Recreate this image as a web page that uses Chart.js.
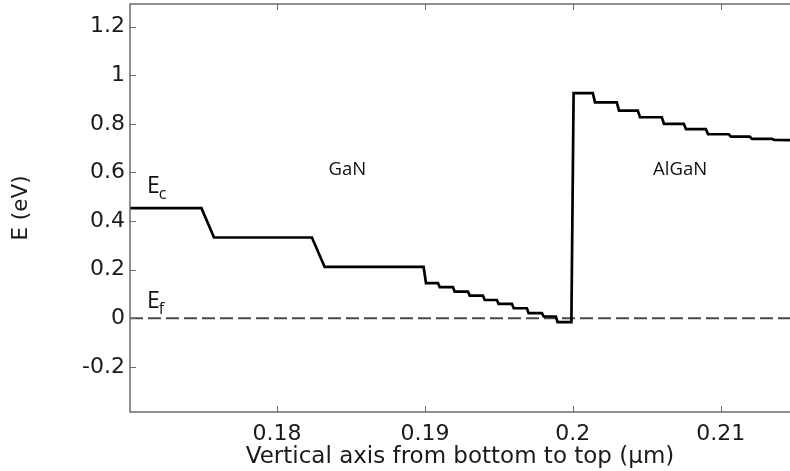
<!DOCTYPE html>
<html>
<head>
<meta charset="utf-8">
<script src="https://cdn.jsdelivr.net/npm/chart.js@4.4.1/dist/chart.umd.min.js"></script>
<style>
  html, body { margin: 0; padding: 0; background: #fff; }
</style>
</head>
<body>
<canvas id="bandChart" width="790" height="471"></canvas>
<script>
// conduction band Ec, corners of the staircase (position in µm, energy in eV)
const ecX = [
  0.17006, 0.17489, 0.17574, 0.18236, 0.18322, 0.18991, 0.19007,
  0.19088, 0.19100, 0.19189, 0.19201, 0.19291, 0.19303, 0.19392, 0.19404,
  0.19486, 0.19498, 0.19588, 0.19600, 0.19689, 0.19701, 0.19791, 0.19803,
  0.19885, 0.19897, 0.19990, 0.20005,
  0.20135, 0.20150, 0.20297, 0.20312, 0.20439, 0.20454, 0.20601, 0.20616,
  0.20750, 0.20765, 0.20899, 0.20914, 0.21054, 0.21069, 0.21196, 0.21211,
  0.21345, 0.21360, 0.21468
];
const ecE = [
  0.453, 0.453, 0.332, 0.332, 0.211, 0.211, 0.144,
  0.144, 0.128, 0.128, 0.109, 0.109, 0.093, 0.093, 0.075,
  0.075, 0.059, 0.059, 0.041, 0.041, 0.021, 0.021, 0.007,
  0.007, -0.016, -0.016, 0.926,
  0.926, 0.888, 0.888, 0.854, 0.854, 0.827, 0.827, 0.800,
  0.800, 0.778, 0.778, 0.757, 0.757, 0.747, 0.747, 0.738,
  0.738, 0.734, 0.733
];
// Fermi level Ef
const efX = [0.17006, 0.21468];
const efE = [0, 0];

const xTicks = [0.18, 0.19, 0.2, 0.21];
const yTicks = [-0.2, 0, 0.2, 0.4, 0.6, 0.8, 1, 1.2];

// text labels inside the plot
const notes = [
  { text: "E", sub: "c", x: 0.17121, y: 0.517 },
  { text: "E", sub: "f", x: 0.17121, y: 0.041 },
  { text: "GaN", x: 0.18475, y: 0.590 },
  { text: "AlGaN", x: 0.20725, y: 0.590 }
];

const frame = {
  id: "frame",
  afterDraw(chart) {
    const { ctx, chartArea: a, scales: { x, y } } = chart;
    ctx.save();
    ctx.strokeStyle = "#6a6a6a";
    ctx.lineWidth = 1.5;
    ctx.beginPath();
    ctx.moveTo(a.right + 2, a.top);
    ctx.lineTo(a.left, a.top);
    ctx.lineTo(a.left, a.bottom);
    ctx.lineTo(a.right + 2, a.bottom);
    ctx.stroke();
    ctx.lineWidth = 1;
    ctx.beginPath();
    xTicks.forEach(v => {
      const px = Math.round(x.getPixelForValue(v)) + 0.5;
      ctx.moveTo(px, a.bottom); ctx.lineTo(px, a.bottom - 6);
      ctx.moveTo(px, a.top); ctx.lineTo(px, a.top + 6);
    });
    yTicks.forEach(v => {
      const py = Math.round(y.getPixelForValue(v)) + 0.5;
      ctx.moveTo(a.left, py); ctx.lineTo(a.left + 6, py);
    });
    ctx.stroke();
    ctx.restore();
  }
};

const labels = {
  id: "labels",
  afterDatasetsDraw(chart) {
    const { ctx, scales: { x, y } } = chart;
    ctx.save();
    ctx.fillStyle = "#111";
    ctx.textBaseline = "alphabetic";
    notes.forEach(n => {
      const px = x.getPixelForValue(n.x);
      const py = y.getPixelForValue(n.y);
      if (n.sub) {
        ctx.textAlign = "left";
        ctx.font = "23px 'Open Sans'";
        ctx.fillText(n.text, px, py);
        const w = ctx.measureText(n.text).width;
        ctx.font = "16px 'Open Sans'";
        ctx.fillText(n.sub, px + w - 1, py + 6);
      } else {
        ctx.textAlign = "center";
        ctx.font = "18.5px 'Open Sans'";
        ctx.fillText(n.text, px, py);
      }
    });
    ctx.restore();
  }
};

const tickFont = { family: "DejaVu Sans", size: 22 };

new Chart(document.getElementById("bandChart"), {
  type: "line",
  data: {
    datasets: [
      {
        label: "Ec",
        data: ecX.map((v, i) => ({ x: v, y: ecE[i] })),
        borderColor: "#000",
        borderWidth: 2.7,
        pointRadius: 0,
        tension: 0,
        fill: false
      },
      {
        label: "Ef",
        data: efX.map((v, i) => ({ x: v, y: efE[i] })),
        borderColor: "#4a4a4a",
        borderWidth: 2,
        borderDash: [13, 5],
        pointRadius: 0,
        fill: false
      }
    ]
  },
  options: {
    responsive: false,
    devicePixelRatio: 1,
    animation: false,
    layout: { padding: { top: 4, left: 0, right: 0, bottom: 0 } },
    plugins: { legend: { display: false }, tooltip: { enabled: false } },
    scales: {
      x: {
        type: "linear",
        min: 0.17006,
        max: 0.21468,
        afterFit: s => { s.height = 59; s.paddingLeft = 0; s.paddingRight = 0; },
        afterBuildTicks: s => { s.ticks = xTicks.map(v => ({ value: v })); },
        grid: { display: false, drawTicks: false },
        border: { display: false },
        ticks: { font: tickFont, color: "#1a1a1a", padding: 9, maxRotation: 0, callback: v => String(v) },
        title: {
          display: true,
          text: "Vertical axis from bottom to top (µm)",
          font: { family: "DejaVu Sans", size: 23 },
          color: "#1a1a1a",
          padding: { top: 0, bottom: 0 }
        }
      },
      y: {
        min: -0.386,
        max: 1.293,
        afterFit: s => { s.width = 130; s.paddingTop = 0; s.paddingBottom = 0; },
        afterBuildTicks: s => { s.ticks = yTicks.map(v => ({ value: v })); },
        grid: { display: false, drawTicks: false },
        border: { display: false },
        ticks: { font: tickFont, color: "#1a1a1a", padding: 5, callback: v => String(v) },
        title: {
          display: true,
          text: "E (eV)",
          font: { family: "DejaVu Sans", size: 21.5 },
          color: "#1a1a1a",
          padding: { top: 9, bottom: 0 }
        }
      }
    }
  },
  plugins: [frame, labels]
});
</script>
</body>
</html>
